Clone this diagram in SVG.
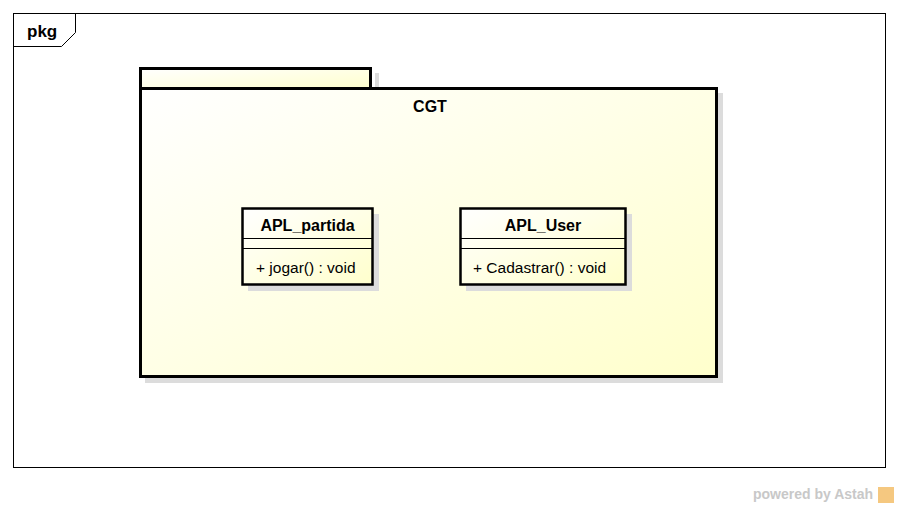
<svg xmlns="http://www.w3.org/2000/svg" width="898" height="508" viewBox="0 0 898 508">
<defs>
<linearGradient id="g" x1="0" y1="0" x2="1" y2="1">
<stop offset="0" stop-color="#ffffff"/>
<stop offset="1" stop-color="#ffffcc"/>
</linearGradient>
<style>
.t{font-family:"Liberation Sans",Arial,sans-serif;fill:#000}
.b{font-weight:bold;font-size:16px}
.m{font-size:15.5px}
.sh{fill:#dcdcdc}
.box{fill:url(#g);stroke:#000;stroke-width:3}
.cls{fill:url(#g);stroke:#000;stroke-width:2.5}
.ln{stroke:#000;stroke-width:1.2}
</style>
</defs>
<rect x="0" y="0" width="898" height="508" fill="#fff"/>
<g id="frame">
<rect x="13.5" y="13.5" width="872" height="454" fill="none" stroke="#000" stroke-width="1"/>
<path d="M13.5 46.5 H61.5 L75.5 32.5 V13.5" fill="none" stroke="#000" stroke-width="1"/>
<text class="t" x="27" y="37" font-size="17" font-weight="bold">pkg</text>
</g>
<g id="CGT">
<rect class="sh" x="375" y="73" width="4" height="20"/>
<rect class="sh" x="145" y="93" width="578" height="290"/>
<rect class="box" x="140.5" y="68.5" width="230" height="20"/>
<rect class="box" x="140.5" y="88.5" width="576" height="288"/>
<text class="t b" x="430" y="112" text-anchor="middle">CGT</text>
</g>
<g id="APL_partida">
<rect class="sh" x="248" y="214" width="131" height="77"/>
<rect class="cls" x="242.5" y="208.5" width="130" height="76"/>
<line class="ln" x1="243" y1="238.5" x2="372" y2="238.5"/>
<line class="ln" x1="243" y1="248.5" x2="372" y2="248.5"/>
<text class="t b" x="307.5" y="231" text-anchor="middle">APL_partida</text>
<text class="t m" x="256" y="272.5">+ jogar() : void</text>
</g>
<g id="APL_User">
<rect class="sh" x="466" y="214" width="166" height="77"/>
<rect class="cls" x="460.5" y="208.5" width="165" height="76"/>
<line class="ln" x1="461" y1="238.5" x2="625" y2="238.5"/>
<line class="ln" x1="461" y1="248.5" x2="625" y2="248.5"/>
<text class="t b" x="543" y="231" text-anchor="middle">APL_User</text>
<text class="t m" x="473" y="272.5">+ Cadastrar() : void</text>
</g>
<g id="connectors"></g>
<g id="watermark">
<text x="753" y="499" font-family="'Liberation Sans',Arial,sans-serif" font-size="14" font-weight="bold" fill="#c8c8c8">powered by Astah</text>
<rect x="878" y="487" width="16" height="16" fill="#f5c880"/>
</g>
</svg>
